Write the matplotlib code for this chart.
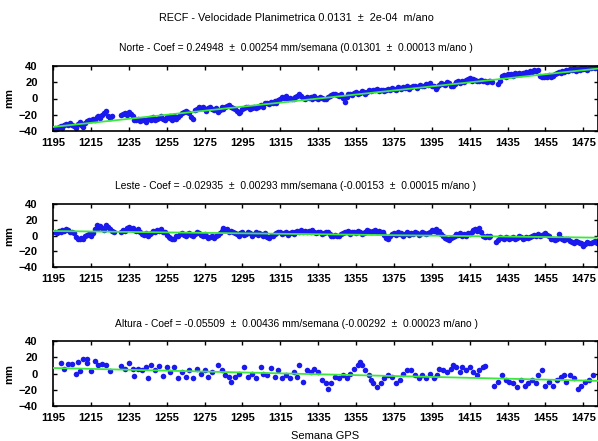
import matplotlib
matplotlib.use('Agg')
import matplotlib.pyplot as plt
import numpy as np

plt.rcParams['font.family'] = ['Liberation Sans', 'DejaVu Sans']

# ---- Norte (weekly) ----
norte_sem = np.concatenate([np.arange(1196, 1227), np.arange(1231, 1428), np.arange(1430, 1483)])
norte_mm = [
    -36, -37, -35, -34, -36, -33, -31, -32, -30, -32,
    -34, -36, -31, -29, -33, -35, -30, -28, -27, -26,
    -25, -27, -23, -22, -24, -20, -18, -15, -21, -24, -22,
    -20, -19, -18, -20, -17, -19, -21, -26, -27, -25,
    -28, -26, -27, -29, -25, -24, -26, -23, -27, -25,
    -24, -22, -25, -27, -23, -24, -22, -26, -21, -25,
    -23, -20, -18, -17, -15, -16, -18, -23, -25, -14,
    -13, -11, -12, -10, -13, -15, -12, -11, -13, -14,
    -12, -16, -14, -11, -13, -10, -9, -8, -11, -12,
    -13, -15, -18, -16, -13, -12, -10, -11, -13, -12,
    -10, -12, -11, -9, -8, -10, -6, -5, -7, -4,
    -6, -3, -5, -2, 0, 2, 1, 3, 0, 1,
    -1, 0, 2, 3, 5, 3, 1, 0, 2, 1,
    2, 0, 3, 1, 0, 2, 1, -1, 0, 2,
    3, 4, 5, 6, 4, 3, 5, 1, -4, 2,
    5, 6, 4, 7, 8, 6, 7, 9, 8, 6,
    8, 10, 9, 11, 10, 12, 9, 10, 11, 9,
    11, 12, 10, 13, 12, 11, 14, 13, 12, 14,
    13, 15, 12, 14, 16, 15, 13, 16, 17, 15,
    16, 18, 17, 19, 15, 16, 12, 14, 17, 19,
    18, 17, 20, 19, 16, 15, 18, 20, 22, 19,
    21, 20, 23, 24, 25, 22, 24, 23, 21, 22,
    23, 21, 22, 20, 21, 22, 20,
    18, 22, 28, 29, 27, 30, 29, 30, 28, 31, 30,
    31, 30, 32, 31, 33, 32, 34, 33, 35, 34,
    35, 28, 27, 26, 28, 27, 29, 26, 28, 30,
    32, 33, 31, 34, 33, 35, 34, 36, 35, 37,
    34, 36, 35, 37, 36, 38, 35, 37, 38, 39, 37, 39,
]

# ---- Leste (weekly) ----
leste_sem = np.concatenate([np.arange(1196, 1228), np.arange(1231, 1427), np.arange(1429, 1483)])
leste_mm = [
    5, 3, 6, 4, 7, 6, 8, 7, 5, 4, 3,
    -2, -4, -5, -3, -4, -1,
    1, 2, 0, 3,
    8, 13, 10, 12, 9, 7, 13, 11, 8, 6,
    5,
    5, 7, 6, 9, 11, 8, 10, 7, 6, 8, 5,
    2, 1, 3, 0, 2, 3,
    6, 5, 7, 6, 8, 5, 4, 1,
    -2, -3, -5, -4, -1, 0,
    2, 3, 1, 0, 2, 3, 1, -1, 2, 4, 3, 1, 0, 2,
    -1, -3, -2, 0, -3, -1, 1, 3,
    6, 9, 7, 8, 5, 6, 4, 3,
    2, 0, 3, 4, 1, 2, 5, 3, 0, 2, 4, 1, 3, 2, 0, 3,
    -2, -3, -1, 0,
    2, 3, 5, 4, 2, 3, 4, 1, 3, 5, 2, 4,
    6, 5, 7, 5, 6, 4, 6, 5, 7, 4,
    3, 5, 4, 2, 3, 5, 4, 2,
    0, -1, 1, -1, 0, 2,
    3, 5, 4, 6, 2, 4, 5, 3, 6, 4, 2, 3,
    5, 7, 6, 4, 6, 7, 5, 6, 4, 5,
    1, -3, -4, 0,
    2, 3, 1, 4, 2, 3, 0, 2, 4, 1, 3, 2, 4, 3, 1, 2, 4, 3, 2, 3,
    5, 7, 6, 8, 5, 6,
    2, -1, -3, -5, -6, -3, -2,
    0, 2, 1, 3, -1, 2, 0, 3, 2,
    5, 7, 8, 6, 9, 4,
    -1, -2, 0, -2, -1,
    -8, -6,
    -2, -3, -4, -2, -3, -4, -3, -2, -4, -3, -1, -2, -4, -3, -2, -3, -2,
    0, 1, -1, 2, 0, 1, 2, 3, 1, -1,
    -4, -5, -6, -4,
    2,
    -3, -4, -6, -5, -4,
    -7, -8, -9, -7, -8, -10, -9, -13, -11, -8, -9, -10, -8, -7, -9,
]

# ---- Altura ----
altura_sem = [
    1199, 1201, 1203, 1205, 1207, 1208, 1209, 1211, 1213, 1213, 1215, 1217, 1219, 1221, 1223, 1225,
    1231, 1233, 1235, 1237, 1238, 1240, 1242, 1244, 1245, 1247, 1249, 1251, 1253, 1255, 1257, 1259,
    1261, 1263, 1265, 1267, 1269, 1271, 1273, 1275, 1277, 1279, 1282, 1284, 1286, 1288, 1289, 1291,
    1293, 1296, 1298, 1300, 1302, 1305, 1306, 1308, 1310, 1312, 1314, 1316, 1318, 1320, 1322, 1324,
    1325, 1327, 1329, 1331, 1333, 1335, 1337, 1339, 1340, 1342, 1344, 1346, 1348, 1350, 1352, 1354,
    1356, 1357, 1358, 1360, 1362, 1363, 1364, 1366, 1368, 1370, 1372, 1374, 1376, 1378, 1380, 1382,
    1384, 1386, 1388, 1390, 1392, 1394, 1396, 1398, 1399, 1401, 1403, 1405, 1406, 1408, 1410, 1411,
    1413, 1415, 1417, 1419, 1420, 1422, 1423,
    1428, 1430, 1432, 1434, 1436, 1438, 1440, 1442, 1444, 1446, 1448, 1450, 1451, 1453, 1455, 1457,
    1459, 1461, 1463, 1465, 1466, 1468, 1470, 1472, 1474, 1476, 1478, 1480,
]
altura_mm = [
    13, 5, 12, 12, -1, 14, 3, 18, 13, 18, 3, 16, 10, 12, 10, 3,
    9, 5, 13, 5, -3, 6, 4, 8, -6, 10, 4, 9, -3, 8, 2, 8,
    -6, 2, -4, 4, -6, 6, 0, 4, -4, 2, 10, 4, -2, -4, -10, -4,
    0, 8, -4, 0, -6, 8, 0, -2, 7, -4, 4, -6, -2, -6, 2, -4,
    10, -10, 4, 2, 5, 2, -8, -12, -19, -12, -4, -6, -2, -6, 0, 6,
    10, 14, 10, 4, -2, -8, -12, -16, -12, -6, -2, -4, -12, -8, 0, 4,
    4, -2, -6, -2, -6, 0, -6, -2, 6, 4, 2, 6, 10, 8, 2, 8,
    4, 8, 2, -2, 4, 8, 9,
    -15, -10, -2, -8, -10, -12, -17, -8, -15, -12, -8, -12, -2, 4, -15, -10,
    -15, -8, -4, -2, -10, -2, -6, -19, -15, -10, -8, -2,
]

# coeficientes do ajuste linear (mm/semana) e valor na semana 1195
paineis = [
    ('Norte - Coef = 0.24948  \u00b1  0.00254 mm/semana (0.01301  \u00b1  0.00013 m/ano )',
     norte_sem, norte_mm, 0.24948, -35.0),
    ('Leste - Coef = -0.02935  \u00b1  0.00293 mm/semana (-0.00153  \u00b1  0.00015 m/ano )',
     leste_sem, leste_mm, -0.02935, 5.7),
    ('Altura - Coef = -0.05509  \u00b1  0.00436 mm/semana (-0.00292  \u00b1  0.00023 m/ano )',
     altura_sem, altura_mm, -0.05509, 6.8),
]
x_ticks = np.arange(1195, 1476, 20)
y_ticks = [-40, -20, 0, 20, 40]
x_min, x_max = 1195, 1482.5

W, H = 598, 441
fig = plt.figure(figsize=(W / 100, H / 100), dpi=100)

# posicoes em pixels: (topo, base)
caixas = [(66, 131), (204, 267), (341, 406)]
titulo_y = [48, 186, 324]
esq, dir_ = 53, 597.5

fig.text(0.495, 1 - 18 / H, 'RECF - Velocidade Planimetrica 0.0131  \u00b1  2e-04  m/ano',
         ha='center', va='center', fontsize=7.8)

for (titulo, sem, mm, coef, b0), (top, bot), ty in zip(paineis, caixas, titulo_y):
    ax = fig.add_axes([esq / W, 1 - bot / H, (dir_ - esq) / W, (bot - top) / H])
    ax.plot(sem, mm, 'o', color='#1a1aee', markersize=4.0, markeredgewidth=0, zorder=2)
    xx = np.array([x_min, x_max])
    ax.plot(xx, b0 + coef * (xx - 1195), color='#3ce83c', linewidth=1.3, zorder=3)
    ax.set_xlim(x_min, x_max)
    ax.set_ylim(-40, 40)
    ax.set_xticks(x_ticks)
    ax.set_yticks(y_ticks)
    ax.tick_params(direction='in', top=True, right=True, length=3, width=1,
                   labelsize=8)
    ax.tick_params(axis='y', pad=11)
    ax.tick_params(axis='x', pad=5)
    for lab in ax.get_xticklabels() + ax.get_yticklabels():
        lab.set_fontweight('bold')
    for s in ax.spines.values():
        s.set_linewidth(1.2)
    ax.set_ylabel('mm', fontsize=8, fontweight='bold')
    ax.yaxis.set_label_coords((14 - esq) / (dir_ - esq), 0.5)
    fig.text(0.495, 1 - ty / H, titulo, ha='center', va='center', fontsize=7.4)

ax.set_xlabel('Semana GPS', fontsize=8, labelpad=6)

fig.savefig('out.png', dpi=100)
